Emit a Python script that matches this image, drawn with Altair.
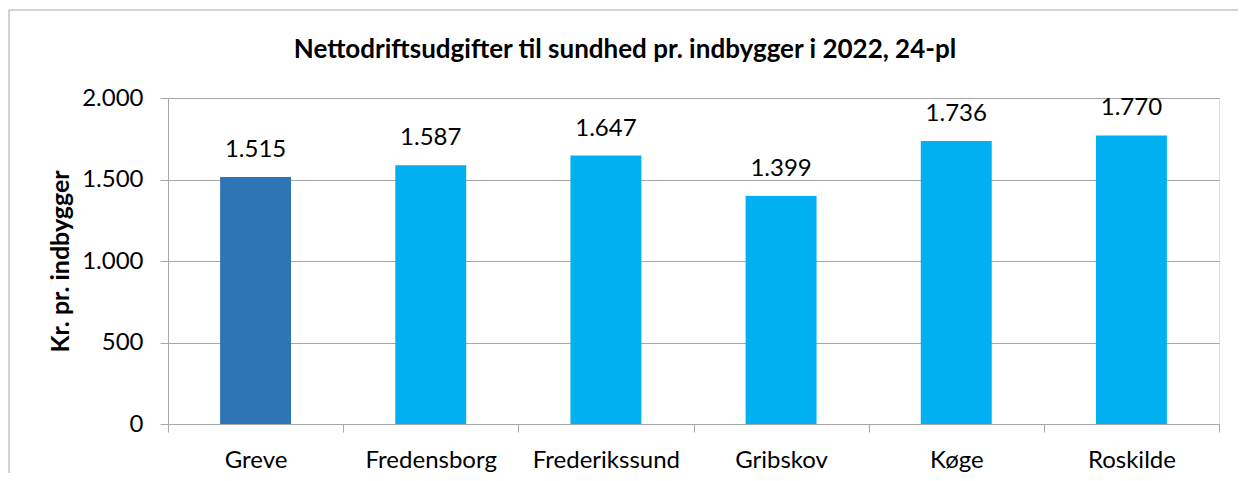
import altair as alt
import pandas as pd

kommuner = ["Greve", "Fredensborg", "Frederikssund", "Gribskov", "Køge", "Roskilde"]
vaerdier = [1515, 1587, 1647, 1399, 1736, 1770]
farver = ["#2E75B6", "#00B0F0", "#00B0F0", "#00B0F0", "#00B0F0", "#00B0F0"]
titel = "Nettodriftsudgifter til sundhed pr. indbygger i 2022, 24-pl"
y_titel = "Kr. pr. indbygger"

df = pd.DataFrame({
    "kommune": kommuner,
    "vaerdi": vaerdier,
    "farve": farver,
    "etiket": [f"{v:,}".replace(",", ".") for v in vaerdier],
})

FONT = "Lato"
W, H = 1051, 326

x = alt.X("kommune:N", sort=kommuner, title=None,
          scale=alt.Scale(paddingInner=0, paddingOuter=0),
          axis=alt.Axis(labelAngle=0, tickBand="extent", tickSize=8, tickColor="#a6a6a6",
                        domainColor="#a6a6a6", labelFont=FONT, labelFontSize=24,
                        labelColor="#000000", labelPadding=16, grid=False))
y = alt.Y("vaerdi:Q", title=y_titel,
          scale=alt.Scale(domain=[0, 2000]),
          axis=alt.Axis(values=[0, 500, 1000, 1500, 2000], tickSize=8, tickColor="#a6a6a6",
                        domainColor="#a6a6a6", gridColor="#a6a6a6", grid=True,
                        labelExpr="replace(format(datum.value, ','), ',', '.')",
                        labelFont=FONT, labelFontSize=24, labelColor="#000000", labelPadding=17,
                        titleFont=FONT, titleFontSize=25, titleFontWeight="bold", titleColor="#000000",
                        titleAngle=-90, titleX=-100, titleY=163, titleBaseline="alphabetic",
                        titleAlign="center"))

frame = alt.Chart(df.head(1)).mark_rect(fill=None, stroke="#a6a6a6", strokeWidth=1).encode(
    x=alt.value(-159), x2=alt.value(1100), y=alt.value(-88), y2=alt.value(500))

title_mark = alt.Chart(df.head(1)).mark_text(
    text=titel, font=FONT, fontSize=26, fontWeight="bold", color="#000000",
    align="center", baseline="alphabetic").encode(x=alt.value(457), y=alt.value(-40))

bars = alt.Chart(df).mark_bar(width=alt.RelativeBandSize(0.405)).encode(
    x=x, y=y, color=alt.Color("farve:N", scale=None))

labels = alt.Chart(df).mark_text(font=FONT, fontSize=24, color="#000000",
                                 baseline="alphabetic", dy=-20).encode(
    x=alt.X("kommune:N", sort=kommuner), y="vaerdi:Q", text="etiket:N")

chart = alt.layer(frame, bars, labels, title_mark).properties(
    width=W, height=H,
    autosize=alt.AutoSizeParams(type="none"),
    padding={"left": 160, "top": 90, "right": 19, "bottom": 49},
).configure_view(stroke=None).configure(background="white")

chart.save("out.html", embed_options={"renderer": "svg", "actions": False})
